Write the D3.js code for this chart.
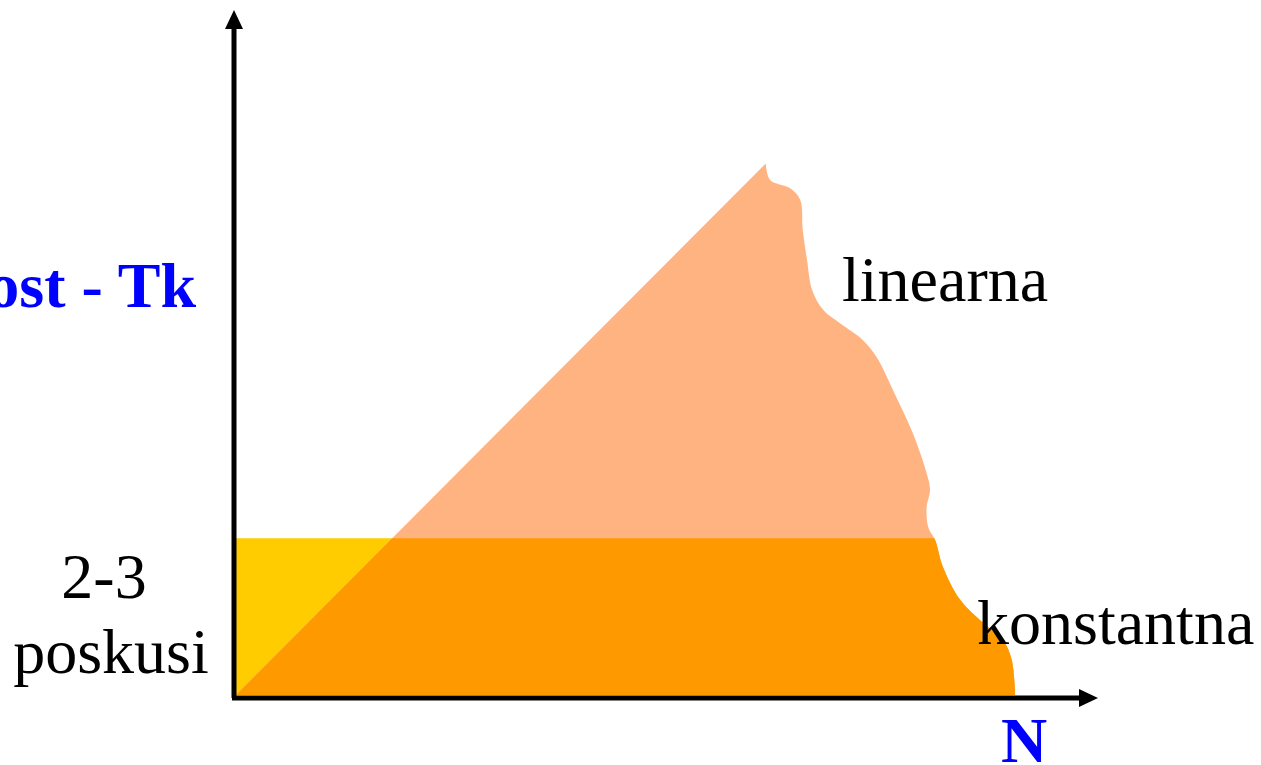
<!DOCTYPE html>
<html>
<head>
<meta charset="utf-8">
<script src="https://cdn.jsdelivr.net/npm/d3@7"></script>
<style>
  html, body { margin: 0; padding: 0; background: #fff; }
  svg { display: block; }
</style>
</head>
<body>
<div id="chart"></div>
<script>
// 概念圖：N 與成本 Tk 的關係（線性 vs 常數）
const width = 1261, height = 765;

// 線性成本的頂點 (N, Tk)
const linearApex = [61.6, 77.6];
// 常數成本的水平高度
const constantLevel = 22.9;
// 右側不規則邊界（由頂點往下到 x 軸）
const edgeN  = [61.6, 62.1, 64.4, 65.6, 65.9, 66.4, 67.0, 68.3, 70.2, 72.9, 74.5, 76.4, 78.7, 80.3, 80.7, 80.3, 80.5, 81.3, 82.2, 84.2, 86.9, 89.2, 90.2, 90.6];
const edgeTk = [77.6, 75.2, 74.0, 72.3, 67.9, 63.5, 59.1, 56.2, 54.3, 51.8, 49.3, 44.5, 38.2, 32.4, 29.9, 27.4, 24.5, 22.6, 18.7, 13.9, 10.5, 8.0, 5.1, 0];

// 文字標籤
const yLabel = "Zahtevnost - Tk";
const xLabel = "N";
const constLabel = ["2-3", "poskusi"];
const seriesLabels = ["linearna", "konstantna"];

const x = d3.scaleLinear().domain([0, 100]).range([236, 1096]);
const y = d3.scaleLinear().domain([0, 100]).range([695, 10]);

const svg = d3.select("#chart").append("svg")
  .attr("width", width).attr("height", height)
  .attr("viewBox", [0, 0, width, height]);

const defs = svg.append("defs");
defs.append("clipPath").attr("id", "band")
  .append("rect")
    .attr("x", x(0)).attr("y", y(constantLevel))
    .attr("width", x(100) - x(0)).attr("height", y(0) - y(constantLevel));

const edgePts = edgeN.map((n, i) => [n, edgeTk[i]]);
const edgeLine = d3.line().x(d => x(d[0])).y(d => y(d[1])).curve(d3.curveCatmullRom.alpha(0.5));
const edgePath = edgeLine(edgePts);

// 線性區域：原點 -> 頂點 -> 右側邊界
const linearPath = edgePath + `L${x(0)},${y(0)}Z`;
// 邊界左側全部（用於常數帶）
const leftPath = edgePath + `L${x(0)},${y(0)}L${x(0)},${y(linearApex[1])}Z`;

// 常數帶（黃色）
svg.append("path").attr("d", leftPath).attr("fill", "#FFCC00").attr("clip-path", "url(#band)");
// 線性區域（淺橘）
svg.append("path").attr("d", linearPath).attr("fill", "#FFB380");
// 重疊部分（橘色）
svg.append("path").attr("d", linearPath).attr("fill", "#FF9900").attr("clip-path", "url(#band)");

// 座標軸與箭頭
const axisG = svg.append("g").attr("stroke", "#000").attr("stroke-width", 5);
axisG.append("line").attr("x1", 234).attr("y1", y(0) + 3).attr("x2", 234).attr("y2", 26);
axisG.append("line").attr("x1", 232).attr("y1", 698).attr("x2", 1082).attr("y2", 698);
svg.append("path").attr("d", "M234,10L243,29L225,29Z").attr("fill", "#000");
svg.append("path").attr("d", "M1098,698L1079,689L1079,707Z").attr("fill", "#000");

// 文字
const serif = "'Liberation Serif', 'Times New Roman', serif";
svg.append("text").attr("x", 196).attr("y", 307).attr("text-anchor", "end")
  .attr("font-family", serif).attr("font-weight", "bold").attr("font-size", 64)
  .attr("fill", "#0000FF").text(yLabel);
svg.append("text").attr("x", 1024).attr("y", 762).attr("text-anchor", "middle")
  .attr("font-family", serif).attr("font-weight", "bold").attr("font-size", 64)
  .attr("fill", "#0000FF").text(xLabel);
svg.append("text").attr("x", 104).attr("y", 598).attr("text-anchor", "middle")
  .attr("font-family", serif).attr("font-size", 64).text(constLabel[0]);
svg.append("text").attr("x", 111).attr("y", 673).attr("text-anchor", "middle")
  .attr("font-family", serif).attr("font-size", 64).text(constLabel[1]);
svg.append("text").attr("x", 842).attr("y", 301)
  .attr("font-family", serif).attr("font-size", 64).text(seriesLabels[0]);
svg.append("text").attr("x", 977).attr("y", 644)
  .attr("font-family", serif).attr("font-size", 64).text(seriesLabels[1]);
</script>
</body>
</html>
